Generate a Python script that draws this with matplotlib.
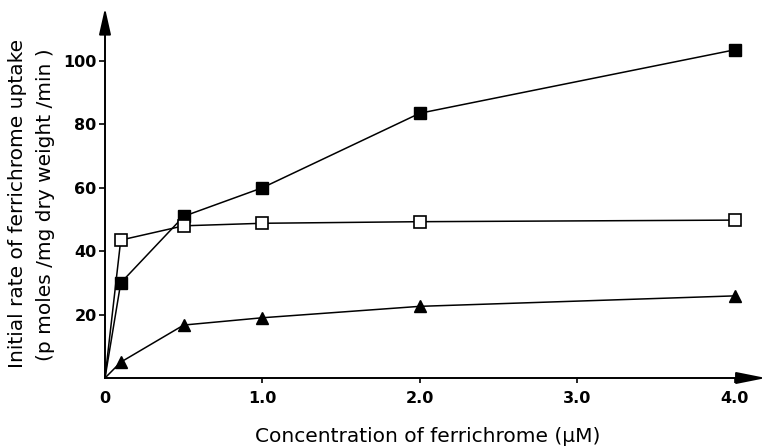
import matplotlib.pyplot as plt

# --- data ---
conc = [0, 0.1, 0.5, 1.0, 2.0, 4.0]          # uM ferrichrome
rate_filled = [0, 30, 51, 60, 83.5, 103.5]   # filled squares
rate_open = [0, 43.5, 48, 48.8, 49.3, 49.8]  # open squares
rate_tri = [0, 5, 16.7, 19, 22.6, 25.9]      # filled triangles

xticks = [0, 1.0, 2.0, 3.0, 4.0]
xtick_labels = ["0", "1.0", "2.0", "3.0", "4.0"]
yticks = [20, 40, 60, 80, 100]

plt.rcParams['font.family'] = ['DejaVu Sans']

fig = plt.figure(figsize=(7.66, 4.47), dpi=100)
ax = fig.add_axes([105 / 766, 1 - 378 / 447, 1 - 105 / 766, (378 - 8) / 447])
ax.set_xlim(0, 4.2)
ax.set_ylim(0, 116.7)

lw = 1.1
ax.plot(conc, rate_tri, '-^', color='k', lw=lw, ms=8.5, mfc='k', mec='k', clip_on=False, zorder=3)
ax.plot(conc, rate_filled, '-s', color='k', lw=lw, ms=8.2, mfc='k', mec='k', clip_on=False, zorder=4)
ax.plot(conc, rate_open, '-s', color='k', lw=lw, ms=8.2, mfc='white', mec='k', mew=1.2,
        clip_on=False, zorder=5)
# lines start from the origin without a symbol
for line in ax.lines:
    line.set_markevery(slice(1, None))

# axes drawn as arrows
for s in ax.spines.values():
    s.set_visible(False)
ax.annotate('', xy=(0, 1), xytext=(0, 0), xycoords='axes fraction',
            arrowprops=dict(arrowstyle='-|>,head_length=1.6,head_width=0.36', color='k',
                            lw=1.4, shrinkA=0, shrinkB=0), annotation_clip=False)
ax.annotate('', xy=(1, 0), xytext=(0, 0), xycoords='axes fraction',
            arrowprops=dict(arrowstyle='-|>,head_length=1.8,head_width=0.36', color='k',
                            lw=1.4, shrinkA=0, shrinkB=0), annotation_clip=False)

ax.set_xticks(xticks)
ax.set_xticklabels(xtick_labels, fontsize=11.5, fontweight='bold')
ax.set_yticks(yticks)
ax.set_yticklabels([str(v) for v in yticks], fontsize=11.5, fontweight='bold')
ax.tick_params(axis='x', direction='out', length=3.5, width=1.2, pad=6)
ax.tick_params(axis='y', direction='out', length=4, width=1.2, pad=2)
ax.xaxis.get_major_ticks()[0].tick1line.set_visible(False)

fig.text(428 / 766, 1 - 436 / 447, "Concentration of ferrichrome (\u03bcM)",
         ha='center', va='center', fontsize=14.5)
fig.text(18 / 766, 1 - 203 / 447, "Initial rate of ferrichrome uptake",
         ha='center', va='center', rotation=90, fontsize=14.5)
fig.text(46 / 766, 1 - 205 / 447, "(p moles /mg dry weight /min )",
         ha='center', va='center', rotation=90, fontsize=14.5)

fig.savefig("out.png", dpi=100)
